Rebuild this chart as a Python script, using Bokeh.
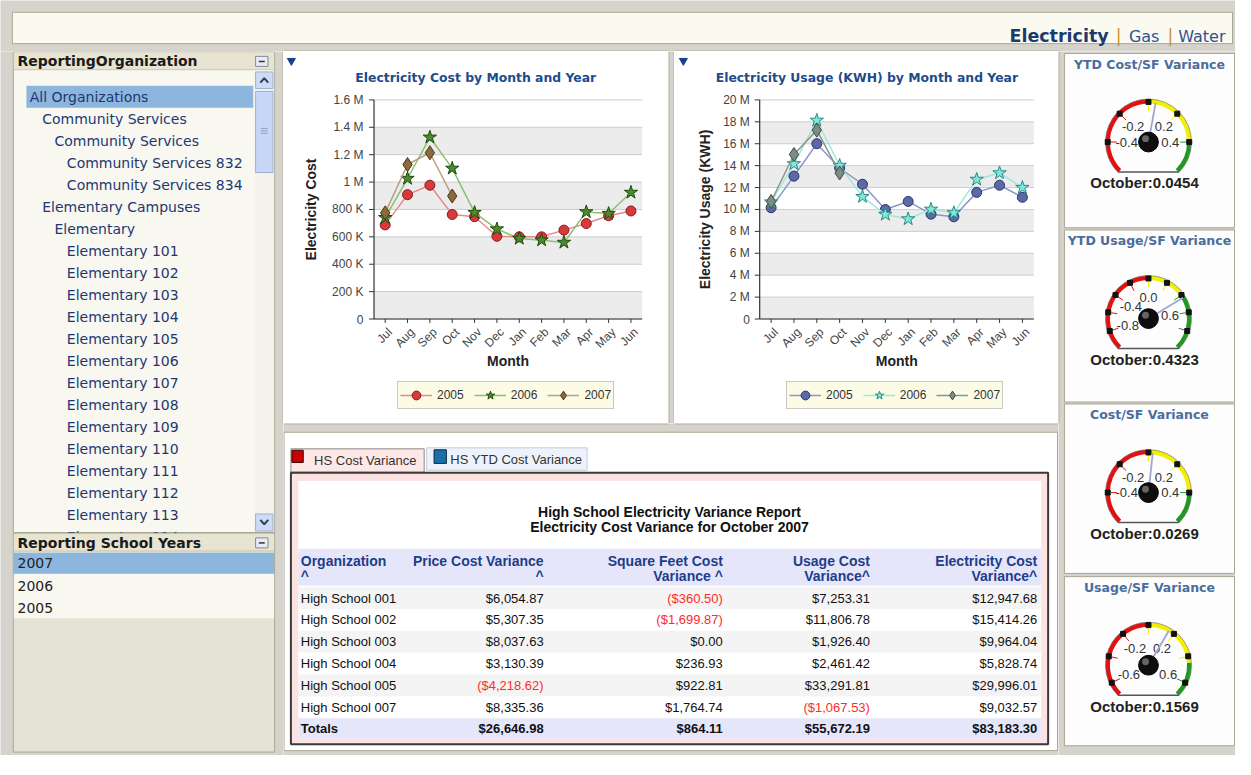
import math
from bokeh.plotting import figure
from bokeh.layouts import row, column
from bokeh.models import Range1d, Legend, LegendItem
from bokeh.core.properties import value
from bokeh.embed import file_html
from bokeh.resources import INLINE

# ---------------- data ----------------
nav_items = ["Electricity", "Gas", "Water"]

tree_items = ["All Organizations", "Community Services", "Community Services",
              "Community Services 832", "Community Services 834", "Elementary Campuses",
              "Elementary", "Elementary 101", "Elementary 102", "Elementary 103",
              "Elementary 104", "Elementary 105", "Elementary 106", "Elementary 107",
              "Elementary 108", "Elementary 109", "Elementary 110", "Elementary 111",
              "Elementary 112", "Elementary 113", "Elementary 114"]
tree_levels = [0, 1, 2, 3, 3, 1, 2, 3, 3, 3, 3, 3, 3, 3, 3, 3, 3, 3, 3, 3, 3]
school_years = ["2007", "2006", "2005"]

months = ["Jul", "Aug", "Sep", "Oct", "Nov", "Dec", "Jan", "Feb", "Mar", "Apr", "May", "Jun"]
years = ["2005", "2006", "2007"]

cost_2005 = [687e3, 908e3, 977e3, 763e3, 747e3, 604e3, 600e3, 600e3, 649e3, 697e3, 754e3, 789e3]
cost_2006 = [740e3, 1026e3, 1327e3, 1100e3, 777e3, 657e3, 588e3, 576e3, 559e3, 782e3, 770e3, 924e3]
cost_2007 = [775e3, 1128e3, 1214e3, 898e3]
cost_ticks = [0, 200e3, 400e3, 600e3, 800e3, 1000e3, 1200e3, 1400e3, 1600e3]
cost_tick_labels = ["0", "200 K", "400 K", "600 K", "800 K", "1 M", "1.2 M", "1.4 M", "1.6 M"]

usage_2005 = [10.16e6, 13.04e6, 16.0e6, 13.78e6, 12.30e6, 9.99e6, 10.73e6, 9.57e6, 9.33e6, 11.56e6, 12.21e6, 11.11e6]
usage_2006 = [10.67e6, 14.16e6, 18.13e6, 14.01e6, 11.17e6, 9.54e6, 9.13e6, 10.01e6, 9.69e6, 12.74e6, 13.33e6, 12.0e6]
usage_2007 = [10.73e6, 15.02e6, 17.24e6, 13.33e6]
usage_ticks = [0, 2e6, 4e6, 6e6, 8e6, 10e6, 12e6, 14e6, 16e6, 18e6, 20e6]
usage_tick_labels = ["0", "2 M", "4 M", "6 M", "8 M", "10 M", "12 M", "14 M", "16 M", "18 M", "20 M"]

tab_labels = ["HS Cost Variance", "HS YTD Cost Variance"]
report_titles = ["High School Electricity Variance Report", "Electricity Cost Variance for October 2007"]
col_head_1 = ["Organization", "Price Cost Variance", "Square Feet Cost", "Usage Cost", "Electricity Cost"]
col_head_2 = ["^", "^", "Variance ^", "Variance^", "Variance^"]
schools = ["High School 001", "High School 002", "High School 003", "High School 004",
           "High School 005", "High School 007"]
price_var = [6054.87, 5307.35, 8037.63, 3130.39, -4218.62, 8335.36]
sqft_var = [-360.50, -1699.87, 0.00, 236.93, 922.81, 1764.74]
usage_var = [7253.31, 11806.78, 1926.40, 2461.42, 33291.81, -1067.53]
elec_var = [12947.68, 15414.26, 9964.04, 5828.74, 29996.01, 9032.57]

gauge_titles = ["YTD Cost/SF Variance", "YTD Usage/SF Variance", "Cost/SF Variance", "Usage/SF Variance"]
gauge_values = [0.0454, 0.4323, 0.0269, 0.1569]
gauge_min = [-0.6, -1.0, -0.6, -0.7]
gauge_max = [0.6, 1.0, 0.6, 0.7]
gauge_yellow_end = [0.4, 0.4, 0.4, 0.45]
gauge_labels = [[-0.4, -0.2, 0.2, 0.4], [-0.8, -0.4, 0.0, 0.6], [-0.4, -0.2, 0.2, 0.4], [-0.6, -0.2, 0.2, 0.6]]
gauge_majors = [[-0.4, -0.2, 0.0, 0.2, 0.4],
                [-0.8, -0.6, -0.4, -0.2, 0.0, 0.2, 0.4, 0.6, 0.8],
                [-0.4, -0.2, 0.0, 0.2, 0.4],
                [-0.6, -0.4, -0.2, 0.0, 0.2, 0.4, 0.6]]
gauge_period = "October"

# ---------------- styles ----------------
BG = "#d5d3cc"
PANEL_LINE = "#a9a792"
DV = "DejaVu Sans"
LS = "Liberation Sans"


def make_canvas(w, h, x0, x1, y0, y1):
    p = figure(width=w, height=h, x_range=Range1d(x0, x1), y_range=Range1d(-y1, -y0),
               output_backend="svg", toolbar_location=None, tools="",
               x_axis_type=None, y_axis_type=None, min_border=0,
               background_fill_color=BG, border_fill_color=BG, outline_line_color=None)
    return p


def rect(p, x0, y0, x1, y1, fill, line=None, lw=1.0):
    p.quad(left=[x0], right=[x1], top=[-y0], bottom=[-y1], fill_color=fill,
           line_color=line, line_width=lw)


def seg(p, xs, ys, color, lw=1.0):
    p.line(x=list(xs), y=[-v for v in ys], line_color=color, line_width=lw)


def label(p, xs, ys, texts, size, color, font=DV, style="normal", align="left", baseline="middle"):
    if not isinstance(xs, list):
        xs, ys, texts = [xs], [ys], [texts]
    p.text(x=xs, y=[-v for v in ys], text=texts, text_font=value(font), text_font_size=size,
           text_font_style=style, text_color=color, text_align=align, text_baseline=baseline)


# ---------------- header ----------------
header = make_canvas(1235, 51, 0, 1251, 0, 52)
rect(header, 12, 12, 1248, 44, "#fbfaf1", PANEL_LINE)
seg(header, [287, 677], [51.6, 51.6], PANEL_LINE)
seg(header, [683, 1072], [51.6, 51.6], PANEL_LINE)
label(header, 1022, 36.3, nav_items[0], "17.5px", "#1b3b6f", style="bold", baseline="alphabetic")
label(header, [1132.7, 1185], [36.3, 36.3], ["|", "|"], "17px", "#c8902c", align="center", baseline="alphabetic")
label(header, [1143, 1193], [36.3, 36.3], nav_items[1:], "16px", "#2b5592", baseline="alphabetic")

# ---------------- left column ----------------
left = make_canvas(283, 704, 0, 287, 52, 775)
seg(left, [286.6, 286.6], [52, 434], PANEL_LINE)
rect(left, 13, 52.5, 278, 546, "#f8f7f0", PANEL_LINE)
rect(left, 13.5, 53, 277.5, 70.7, "#e7e4d1")
seg(left, [13.5, 277.5], [70.7, 70.7], "#c9c6b1")
label(left, 17.3, 62, "ReportingOrganization", "14px", "#1a1a1a", style="bold")
rect(left, 258.7, 57, 271.3, 67.3, "#e6ebf4", "#7d8aa3")
seg(left, [262, 268], [62.2, 62.2], "#333333", 1.5)
rect(left, 26.3, 87.3, 256.3, 109.7, "#8db6de")
indent = [29.7, 42.3, 54.7, 67.3]
label(left, [indent[l] for l in tree_levels], [98.7 + 22.57 * i for i in range(len(tree_items))],
      tree_items, "14px", "#1e3772")
rect(left, 257.5, 71, 277.5, 545.5, "#f3f2ec")
rect(left, 258.7, 73, 276.3, 90, "#cddcf6", "#9fb0d0")
seg(left, [263.5, 267.5, 271.5], [84, 79.5, 84], "#30405a", 2)
rect(left, 258.7, 93, 276.3, 176.3, "#c6d6f6", "#9fb0d0")
for gy in [131, 133.5, 136]:
    seg(left, [264, 271], [gy, gy], "#8fa2c8", 1)
rect(left, 258.7, 527, 276.3, 544.5, "#cddcf6", "#9fb0d0")
seg(left, [263.5, 267.5, 271.5], [533, 537.5, 533], "#30405a", 2)
rect(left, 13, 546.7, 278, 771.5, "#e4e3d6", PANEL_LINE)
rect(left, 13.5, 547.2, 277.5, 565, "#e7e4d1")
seg(left, [13.5, 277.5], [565, 565], "#c9c6b1")
label(left, 17.3, 556.7, "Reporting School Years", "14px", "#1a1a1a", style="bold")
rect(left, 258.7, 551.5, 271.3, 561.8, "#e6ebf4", "#7d8aa3")
seg(left, [262, 268], [556.7, 556.7], "#333333", 1.5)
rect(left, 13.5, 588.3, 277.5, 634, "#f8f7f0")
rect(left, 13.5, 566.7, 277.5, 588.3, "#8db6de")
label(left, [17.3] * 3, [577.7 + 22.8 * i for i in range(3)], school_years, "14px", "#222222")


# ---------------- charts ----------------
def make_chart(width, fx0, fx1, px0, px1, title, title_x, tri_x, ylabel, ylabel_x, ytl_x,
               ymax, ticks, tick_labels, series, styles, legend_left):
    cat = (px1 - px0) / len(months)          # reference px per month slot

    def X(rx):
        return (rx - px0) / cat

    ypp = ymax / (326.7 - 101.7)             # value per reference px

    def Y(ry):
        return (326.7 - ry) * ypp

    p = figure(width=width, height=372, x_range=Range1d(X(fx0), X(fx1)), y_range=Range1d(Y(434), Y(52)),
               output_backend="svg", toolbar_location=None, tools="",
               x_axis_type=None, y_axis_type=None, min_border=0,
               background_fill_color="white", border_fill_color="white", outline_line_color=None)
    n_m = len(months)
    mx = [i + 0.5 for i in range(n_m)]
    ev = list(range(0, len(ticks) - 1, 2))
    p.quad(left=[0] * len(ev), right=[n_m] * len(ev), bottom=[ticks[i] for i in ev],
           top=[ticks[i + 1] for i in ev], fill_color="#ececec", line_color=None)
    p.segment(x0=[0] * len(ticks), x1=[n_m] * len(ticks), y0=ticks, y1=ticks,
              line_color="#cdcdcd", line_width=1)
    p.segment(x0=[0, 0], y0=[0, 0], x1=[0, n_m], y1=[ymax, 0], line_color="#333333", line_width=1.2)
    p.segment(x0=[X(px0 - 5)] * len(ticks), x1=[0] * len(ticks), y0=ticks, y1=ticks,
              line_color="#333333", line_width=1)
    p.segment(x0=mx, x1=mx, y0=[0] * n_m, y1=[Y(330.7)] * n_m, line_color="#333333", line_width=1)
    p.text(x=[X(ytl_x)] * len(ticks), y=ticks, text=tick_labels, text_font=value(LS),
           text_font_size="12px", text_color="#444444", text_align="right", text_baseline="middle")
    p.text(x=[m + 5 / cat for m in mx], y=[Y(338)] * n_m, text=months, angle=math.pi / 4,
           text_font=value(LS), text_font_size="12px", text_color="#444444",
           text_align="right", text_baseline="middle")
    p.text(x=[n_m / 2], y=[Y(370.3)], text=["Month"], text_font=value(LS), text_font_size="14px",
           text_font_style="bold", text_color="#222222", text_align="center", text_baseline="middle")
    p.text(x=[X(ylabel_x)], y=[ymax / 2], text=[ylabel], angle=math.pi / 2, text_font=value(LS),
           text_font_size="14px", text_font_style="bold", text_color="#222222",
           text_align="center", text_baseline="middle")
    p.text(x=[X(title_x)], y=[Y(78.3)], text=[title], text_font=value(DV), text_font_size="12.4px",
           text_font_style="bold", text_color="#1c4c8c", text_align="left", text_baseline="middle")
    p.scatter(x=[X(tri_x)], y=[Y(61.5)], marker="inverted_triangle", size=8,
              fill_color="#1b3f8f", line_color="#1b3f8f")
    items = []
    for (name, vals), st in zip(series, styles):
        xs = mx[:len(vals)]
        ln = p.line(xs, vals, line_color=st["line"], line_width=1.5)
        sc = p.scatter(xs, vals, marker=st["marker"], size=st["size"], fill_color=st["fill"],
                       line_color=st["edge"], line_width=1)
        items.append(LegendItem(label=name, renderers=[ln, sc]))
    leg = Legend(items=items, orientation="horizontal", location=(legend_left, 14),
                 border_line_color="#9a9a9a", background_fill_color="#fbfbe6", background_fill_alpha=1,
                 label_text_font=LS, label_text_font_size="12px", label_text_color="#333333",
                 glyph_width=32, glyph_height=22, padding=2, spacing=10, label_standoff=5, margin=0)
    p.add_layout(leg)
    return p


cost_styles = [dict(marker="circle", size=10, fill="#d83a3c", edge="#8a1c1c", line="#e68a8a"),
               dict(marker="star", size=14, fill="#4c8a2c", edge="#1e4a10", line="#8cc070"),
               dict(marker="diamond", size=14, fill="#8b6b3c", edge="#4a3518", line="#b8a080")]
usage_styles = [dict(marker="circle", size=10, fill="#5b6aa6", edge="#2b3566", line="#8c96c8"),
                dict(marker="star", size=14, fill="#7fe8dc", edge="#2a8a80", line="#9fe8e0"),
                dict(marker="diamond", size=14, fill="#7d8c84", edge="#3d4a44", line="#8a9690")]

ch1 = make_chart(385, 287, 677, 378.7, 650.3, "Electricity Cost by Month and Year", 359.7, 295,
                 "Electricity Cost", 315.3, 368, 1.6e6, cost_ticks, cost_tick_labels,
                 list(zip(years, [cost_2005, cost_2006, cost_2007])), cost_styles, 114)
ch2 = make_chart(384, 683, 1072, 769.3, 1047, "Electricity Usage (KWH) by Month and Year", 724.7, 692,
                 "Electricity Usage (KWH)", 713.7, 759.3, 20e6, usage_ticks, usage_tick_labels,
                 list(zip(years, [usage_2005, usage_2006, usage_2007])), usage_styles, 112)

gap = make_canvas(6, 372, 677, 683, 52, 434)
seg(gap, [677.4, 677.4], [52, 434], PANEL_LINE)
seg(gap, [682.6, 682.6], [52, 434], PANEL_LINE)

# ---------------- table ----------------
tbl = make_canvas(775, 332, 287, 1072, 434, 775)
seg(tbl, [287, 677], [434.4, 434.4], PANEL_LINE)
seg(tbl, [683, 1072], [434.4, 434.4], PANEL_LINE)
rect(tbl, 287.5, 443, 1071, 770, "#ffffff", PANEL_LINE)
rect(tbl, 432, 459, 594.5, 482, "#eef3fb", "#c4cbd8")
rect(tbl, 294.5, 460, 429.5, 484, "#fde7e7", "#8a8a8a")
rect(tbl, 295.5, 461.5, 307, 474, "#c80000", "#400000")
rect(tbl, 439.5, 461, 452, 475, "#1a6fa8", "#0a2a4a")
label(tbl, 318, 472, tab_labels[0], "13px", "#333333", font=LS)
label(tbl, 456, 471, tab_labels[1], "13px", "#333333", font=LS)
rect(tbl, 294.5, 484.5, 1061.5, 763.5, "#fde2e2", "#3a3a3a", 2)
rect(tbl, 302, 493, 1054.5, 757.5, "#ffffff")
label(tbl, [678, 678], [525, 540], report_titles, "14px", "#111111", font=LS, style="bold", align="center")
rect(tbl, 302, 562.7, 1054.5, 600.5, "#e6e6fa")
col_x = [304.5, 550.5, 732, 881, 1050.5]
col_align = ["left", "right", "right", "right", "right"]
for cx, al, h1, h2 in zip(col_x, col_align, col_head_1, col_head_2):
    label(tbl, [cx, cx], [575, 591], [h1, h2], "14px", "#1d3d8c", font=LS, style="bold", align=al)

row_y = [613.3 + 22.4 * i for i in range(len(schools))]
for i, y in enumerate(row_y):
    if i % 2 == 0:
        rect(tbl, 302, y - 11.2, 1054.5, y + 11.2, "#f4f4f4")


def money(v):
    s = "${:,.2f}".format(abs(v))
    return "(" + s + ")" if v < 0 else s


label(tbl, [col_x[0]] * len(schools), row_y, schools, "13px", "#111111", font=LS)
for cx, vals in zip(col_x[1:], [price_var, sqft_var, usage_var, elec_var]):
    tbl.text(x=[cx] * len(vals), y=[-y for y in row_y], text=[money(v) for v in vals],
             text_color=["#ff2b2b" if v < 0 else "#111111" for v in vals],
             text_font=value(LS), text_font_size="13px", text_align="right", text_baseline="middle")
ty = 747.3
rect(tbl, 302, 736.7, 1054.5, 757.5, "#e6e6fa")
label(tbl, col_x[0], ty, "Totals", "13px", "#111111", font=LS, style="bold")
for cx, vals in zip(col_x[1:], [price_var, sqft_var, usage_var, elec_var]):
    label(tbl, cx, ty, money(round(sum(vals), 2)), "13px", "#111111", font=LS, style="bold", align="right")

# ---------------- gauges ----------------
right = make_canvas(177, 704, 1072, 1251, 52, 775)
seg(right, [1072.4, 1072.4], [52, 434], PANEL_LINE)
panel_tops = [54, 235.3, 414, 591.3]
panel_bots = [233, 412, 588, 765]
RED, YEL, GRN = "#e3100f", "#f2ef00", "#1f9a1f"


def ang(v, vmin, vmax):
    return 225.0 - (v - vmin) / (vmax - vmin) * 270.0


for i in range(len(gauge_titles)):
    top, bot = panel_tops[i], panel_bots[i]
    rect(right, 1078, top, 1250, bot, "#fdfdfd", PANEL_LINE)
    label(right, 1164, top + 11, gauge_titles[i], "12.5px", "#4a6d9c", style="bold", align="center")
    vmin, vmax, ye = gauge_min[i], gauge_max[i], gauge_yellow_end[i]
    cx, cyr = 1163.0, top + 91.0
    cy = -cyr
    a0, az, ay, a1 = ang(vmin, vmin, vmax), ang(0, vmin, vmax), ang(ye, vmin, vmax), ang(vmax, vmin, vmax)
    right.annular_wedge(x=[cx] * 3, y=[cy] * 3, inner_radius=39, outer_radius=43.5,
                        start_angle=[az, ay, a1], end_angle=[a0, az, ay],
                        start_angle_units="deg", end_angle_units="deg",
                        fill_color=[RED, YEL, GRN], line_color=None)
    right.arc(x=[cx], y=[cy], radius=43.5, start_angle=a1, end_angle=a0,
              start_angle_units="deg", end_angle_units="deg",
              line_color="#7a7a7a", line_width=0.7)
    r = 43.5
    right.line(x=[cx + r * math.cos(math.radians(a0)), cx + r * math.cos(math.radians(a1))],
               y=[cy + r * math.sin(math.radians(a0)), cy + r * math.sin(math.radians(a1))],
               line_color="#555555", line_width=1.6)
    tx0, ty0, tx1, ty1, tcol = [], [], [], [], []
    for m in gauge_majors[i]:
        a = math.radians(ang(m, vmin, vmax))
        tx0.append(cx + 38 * math.cos(a)); ty0.append(cy + 38 * math.sin(a))
        tx1.append(cx + 32 * math.cos(a)); ty1.append(cy + 32 * math.sin(a))
        tcol.append(RED if m < 0 else (YEL if m < ye else GRN))
    right.segment(x0=tx0, y0=ty0, x1=tx1, y1=ty1, line_color=tcol, line_width=1)
    right.scatter(x=[cx + 41.2 * math.cos(math.radians(ang(m, vmin, vmax))) for m in gauge_majors[i]],
                  y=[cy + 41.2 * math.sin(math.radians(ang(m, vmin, vmax))) for m in gauge_majors[i]],
                  marker="square", size=5, fill_color="#111111", line_color="#111111")
    lx = [cx + 22 * math.cos(math.radians(ang(v, vmin, vmax))) for v in gauge_labels[i]]
    ly = [cy + 22 * math.sin(math.radians(ang(v, vmin, vmax))) for v in gauge_labels[i]]
    right.text(x=lx, y=ly, text=["{:.1f}".format(v) for v in gauge_labels[i]], text_font=value(LS),
               text_font_size="13px", text_color="#333333", text_align="center", text_baseline="middle")
    an = math.radians(ang(gauge_values[i], vmin, vmax))
    right.line(x=[cx, cx + 41 * math.cos(an)], y=[cy, cy + 41 * math.sin(an)],
               line_color="#a2a6d4", line_width=1.8)
    right.circle(x=[cx], y=[cy], radius=10, fill_color="#0e0e0e", line_color="#000000")
    right.circle(x=[cx - 3], y=[cy + 3.5], radius=3.5, fill_color="#8a8a8a", fill_alpha=0.7, line_color=None)
    label(right, cx - 4, cyr + 42, "{}:{:.4f}".format(gauge_period, gauge_values[i]), "15px", "#222222",
          font=LS, style="bold", align="center")

layout = column(header, row(left, column(row(ch1, gap, ch2), tbl), right))
open("out.html", "w").write(file_html(layout, INLINE))
